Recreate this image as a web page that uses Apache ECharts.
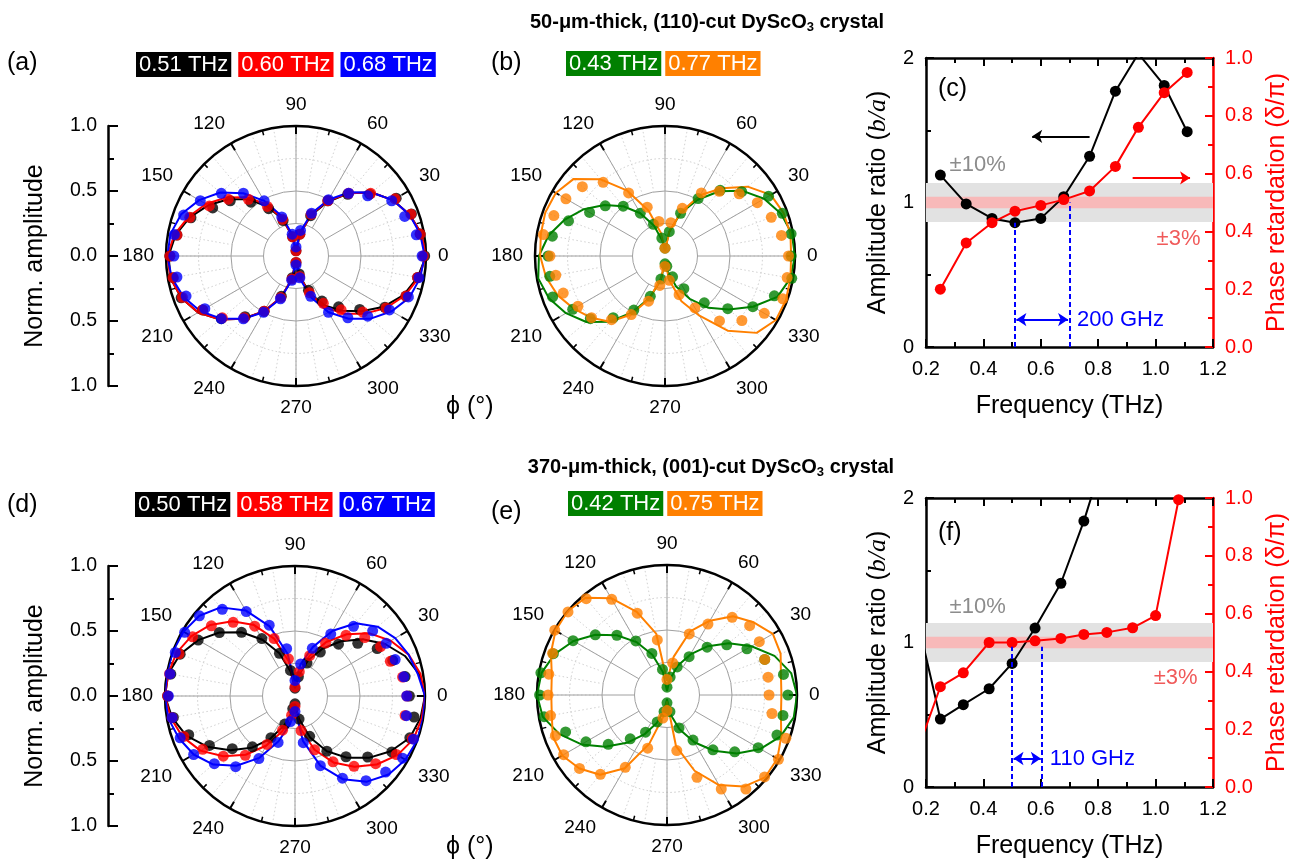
<!DOCTYPE html>
<html><head><meta charset="utf-8">
<script src="https://cdn.jsdelivr.net/npm/echarts/dist/echarts.min.js"></script>
<style>html,body{margin:0;padding:0;background:#fff}#c{width:1297px;height:863px}</style>
</head><body><div id="c"></div>
<script>
const FF = "'Liberation Sans', Arial, Helvetica, sans-serif";
const PHI = [0,10,20,30,40,50,60,70,80,90,100,110,120,130,140,150,160,170,180,190,200,210,220,230,240,250,260,270,280,290,300,310,320,330,340,350];

// (a) 50-um, (110)-cut
const A_PTS_051 = [0.99,0.97,0.945,0.89,0.74,0.62,0.49,0.33,0.17,0.04, 0.15,0.29,0.42,0.54,0.66,0.74,0.86,0.93,0.97, 0.96,0.94,0.83,0.75,0.61,0.49,0.33,0.17,0.05, 0.14,0.28,0.40,0.51,0.64,0.79,0.90,0.95];
const A_FIT_051 = [1.00,0.98,0.93,0.86,0.76,0.63,0.48,0.33,0.17,0.03, 0.15,0.30,0.44,0.57,0.68,0.78,0.87,0.94,0.98, 0.98,0.94,0.87,0.76,0.63,0.49,0.34,0.18,0.03, 0.15,0.30,0.44,0.55,0.66,0.78,0.88,0.95];
const A_PTS_060 = [0.98,0.97,0.94,0.88,0.75,0.63,0.49,0.34,0.17,0.04, 0.15,0.30,0.44,0.57,0.68,0.77,0.87,0.93,0.97, 0.96,0.93,0.83,0.74,0.62,0.49,0.34,0.18,0.05, 0.16,0.30,0.42,0.54,0.67,0.80,0.90,0.95];
const A_FIT_060 = [1.00,0.98,0.93,0.86,0.76,0.63,0.49,0.34,0.17,0.03, 0.15,0.31,0.46,0.59,0.70,0.80,0.88,0.95,0.99, 0.98,0.94,0.87,0.76,0.63,0.49,0.34,0.18,0.03, 0.16,0.31,0.46,0.58,0.69,0.80,0.89,0.96];
const A_PTS_068 = [0.97,0.94,0.89,0.85,0.72,0.63,0.50,0.35,0.20,0.07, 0.17,0.32,0.49,0.63,0.75,0.85,0.92,0.95,0.94, 0.93,0.90,0.81,0.75,0.63,0.50,0.35,0.19,0.07, 0.17,0.33,0.50,0.62,0.72,0.83,0.92,0.96];
const A_FIT_068 = [0.99,0.97,0.93,0.86,0.76,0.64,0.50,0.35,0.19,0.05, 0.17,0.33,0.49,0.63,0.76,0.86,0.94,0.98,0.99, 0.97,0.92,0.85,0.75,0.63,0.50,0.35,0.19,0.05, 0.18,0.34,0.50,0.63,0.75,0.85,0.93,0.97];

// (b)
const B_PTS_043 = [0.97,0.985,0.96,0.92,0.77,0.66,0.51,0.35,0.19,0.06, 0.14,0.26,0.38,0.50,0.60,0.67,0.79,0.88,0.90, 0.90,0.92,0.82,0.75,0.62,0.48,0.33,0.18,0.06, 0.08,0.17,0.29,0.47,0.63,0.78,0.895,0.99];
const B_FIT_043 = [1.00,0.99,0.95,0.88,0.78,0.65,0.50,0.35,0.19,0.05, 0.12,0.25,0.38,0.50,0.61,0.72,0.82,0.91,0.97, 0.99,0.95,0.88,0.79,0.66,0.50,0.34,0.19,0.05, 0.12,0.25,0.38,0.52,0.64,0.78,0.92,0.98];
const B_PTS_077 = [0.95,0.91,0.87,0.82,0.745,0.65,0.56,0.39,0.26,0.06, 0.27,0.40,0.56,0.74,0.83,0.88,0.91,0.95,0.885, 0.853,0.833,0.773,0.738,0.64,0.52,0.37,0.23,0.08, 0.19,0.317,0.46,0.652,0.772,0.882,0.964,0.954];
const B_FIT_077 = [0.97,0.98,0.97,0.94,0.83,0.68,0.54,0.36,0.19,0.04, 0.18,0.37,0.58,0.77,0.92,0.97,0.98,0.97,0.96, 0.93,0.88,0.81,0.74,0.66,0.52,0.35,0.17,0.04, 0.19,0.37,0.53,0.75,0.92,0.985,0.99,0.98];

// (d) 370-um, (001)-cut
const D_PTS_050 = [0.88,0.86,0.80,0.73,0.63,0.52,0.39,0.27,0.15,0.06, 0.20,0.35,0.51,0.64,0.76,0.86,0.94,0.97,0.98, 0.95,0.87,0.76,0.63,0.51,0.37,0.23,0.10,0.06, 0.18,0.33,0.49,0.61,0.73,0.86,0.94,0.93];
const D_FIT_050 = [1.00,0.97,0.90,0.80,0.68,0.55,0.42,0.29,0.16,0.06, 0.19,0.35,0.50,0.64,0.76,0.86,0.94,0.99,1.00, 0.96,0.89,0.78,0.65,0.52,0.38,0.24,0.12,0.06, 0.18,0.34,0.49,0.62,0.74,0.85,0.94,0.98];
const D_PTS_058 = [0.86,0.84,0.78,0.76,0.70,0.61,0.47,0.33,0.19,0.07, 0.29,0.47,0.62,0.74,0.84,0.91,0.95,0.98,0.98, 0.96,0.91,0.82,0.72,0.595,0.43,0.28,0.15,0.08, 0.27,0.44,0.585,0.706,0.81,0.90,0.96,0.86];
const D_FIT_058 = [1.00,0.98,0.93,0.85,0.75,0.62,0.48,0.33,0.18,0.07, 0.27,0.47,0.63,0.75,0.85,0.92,0.97,0.99,1.00, 0.97,0.92,0.84,0.72,0.59,0.44,0.29,0.15,0.07, 0.26,0.44,0.59,0.71,0.82,0.91,0.97,0.99];
const D_PTS_067 = [0.86,0.85,0.82,0.81,0.78,0.70,0.55,0.39,0.25,0.12, 0.37,0.58,0.75,0.87,0.96,0.98,0.98,0.977,0.974, 0.96,0.94,0.90,0.81,0.71,0.556,0.38,0.20,0.12, 0.365,0.57,0.73,0.85,0.91,0.956,0.97,0.87];
const D_FIT_067 = [1.00,0.96,0.93,0.89,0.83,0.73,0.58,0.40,0.25,0.10, 0.33,0.57,0.76,0.89,0.96,0.99,1.00,1.00,1.00, 0.99,0.95,0.90,0.82,0.70,0.55,0.37,0.22,0.10, 0.35,0.57,0.74,0.86,0.94,0.98,1.00,1.00];

// (e)
const E_PTS_042 = [0.93,0.91,0.80,0.71,0.60,0.48,0.34,0.23,0.14,0.06, 0.20,0.34,0.48,0.60,0.72,0.835,0.93,0.985,0.98, 0.96,0.83,0.72,0.59,0.44,0.33,0.22,0.13,0.06, 0.13,0.27,0.40,0.55,0.68,0.81,0.90,0.906];
const E_FIT_042 = [1.00,0.97,0.88,0.75,0.62,0.49,0.36,0.24,0.12,0.03, 0.18,0.33,0.47,0.60,0.72,0.83,0.92,0.98,1.00, 0.97,0.88,0.76,0.62,0.48,0.35,0.23,0.12,0.03, 0.15,0.28,0.42,0.56,0.70,0.83,0.93,0.99];
const E_PTS_075 = [0.785,0.79,0.80,0.82,0.83,0.78,0.63,0.50,0.25,0.12, 0.43,0.67,0.85,0.967,0.994,0.997,0.937,0.923,0.915, 0.91,0.914,0.918,0.879,0.797,0.642,0.435,0.18,0.12, 0.434,0.674,0.835,0.944,0.98,0.99,0.973,0.82];
const E_FIT_075 = [0.88,0.89,0.93,0.94,0.87,0.79,0.66,0.52,0.30,0.11, 0.48,0.68,0.86,0.976,1.00,0.99,0.95,0.90,0.89, 0.90,0.935,0.93,0.88,0.80,0.65,0.40,0.17,0.05, 0.40,0.62,0.80,0.92,0.985,0.98,0.935,0.89];

// (c) and (f)
const C_FREQ  = [0.25,0.34,0.43,0.51,0.60,0.68,0.77,0.86,0.94,1.03,1.11];
const C_RATIO = [1.19,0.99,0.89,0.86,0.89,1.04,1.32,1.77,2.03,1.81,1.49];
const C_PHASE = [0.20,0.36,0.43,0.47,0.49,0.51,0.54,0.625,0.76,0.88,0.95];
const F_FREQ  = [0.17,0.25,0.33,0.42,0.50,0.58,0.67,0.75,0.83,0.92,1.00,1.08];
const F_RATIO = [1.16,0.47,0.57,0.68,0.855,1.10,1.41,1.84,2.35];
const F_PHASE = [0.125,0.347,0.395,0.50,0.50,0.506,0.514,0.528,0.535,0.551,0.593,0.994];
const BAND_10 = [0.865, 1.135];
const BAND_3  = [0.96, 1.04];
const C_SPAN_X = [0.51, 0.70], C_SPAN_TOP = [0.86, 1.0], C_SPAN_Y = 0.19;
const F_SPAN_X = [0.50, 0.605], F_SPAN_TOP = [0.97, 0.97], F_SPAN_Y = 0.197;
const C_ARROW_AMP = [[0.77, 1.458], [0.57, 1.458]];
const C_ARROW_PHASE = [[0.92, 0.585], [1.12, 0.585]];

const BLACK = '#000000', RED = '#ff0000', BLUE = '#0000ff', GREEN = '#008000', ORANGE = '#ff8000';

const chart = echarts.init(document.getElementById('c'), null, {renderer: 'canvas'});

// ---------- polar systems ----------
const PANELS = [[296,256],[665,256],[295,696],[667,695]];
const R = 130;
const polar = [], angleAxis = [], radiusAxis = [];
const noAx = {axisLine:{show:false}, axisTick:{show:false}, axisLabel:{show:false}};
const T = 'rgba(0,0,0,0)';
PANELS.forEach(c => {
  const i0 = polar.length;
  polar.push({center:c, radius:[R*0.5, R]});
  angleAxis.push(Object.assign({polarIndex:i0, type:'value', min:0, max:360, interval:10, startAngle:0, clockwise:false,
    splitLine:{show:true, lineStyle:{color:'#d2d2d2', width:1, type:[1.5,2.5]}}}, noAx));
  radiusAxis.push(Object.assign({polarIndex:i0, type:'value', min:0, max:2, interval:1,
    splitLine:{show:true, lineStyle:{color:[T,'#cccccc',T], width:1, type:[1.5,2.5]}}}, noAx));
  polar.push({center:c, radius:[R*0.25, R]});
  angleAxis.push(Object.assign({polarIndex:i0+1, type:'value', min:0, max:360, interval:30, startAngle:0, clockwise:false,
    splitLine:{show:true, lineStyle:{color:'#a0a0a0', width:1}}}, noAx));
  radiusAxis.push(Object.assign({polarIndex:i0+1, type:'value', min:0, max:1, splitLine:{show:false}}, noAx));
  polar.push({center:c, radius:R});
  angleAxis.push({polarIndex:i0+2, type:'value', min:0, max:360, interval:30, startAngle:0, clockwise:false,
    axisLine:{show:true, lineStyle:{color:'#000', width:2.5}},
    axisTick:{show:true, inside:true, length:8, lineStyle:{color:'#000', width:2}},
    minorTick:{show:true, splitNumber:2, length:5, lineStyle:{color:'#000', width:1.5}},
    axisLabel:{show:true, margin:12, fontSize:19, color:'#000', fontFamily:FF},
    splitLine:{show:false}, minorSplitLine:{show:false}});
  radiusAxis.push(Object.assign({polarIndex:i0+2, type:'value', min:0, max:1, interval:0.25,
    splitLine:{show:true, lineStyle:{color:[T,'#a0a0a0','#a0a0a0',T,T], width:1}}}, noAx));
});

function polarPts(v){ return PHI.map((p,i)=>[v[i], p]); }
function polarLoop(v){ const d = polarPts(v); d.push([v[0], 360]); return d; }
function polarSeries(k, name, color, pts, fit){
  return [
    {type:'scatter', name, coordinateSystem:'polar', polarIndex:3*k+2, data:polarPts(pts), symbol:'circle', symbolSize:11, itemStyle:{color}, z:3, silent:true},
    {type:'line', name, coordinateSystem:'polar', polarIndex:3*k+2, data:polarLoop(fit), showSymbol:false, symbol:'none', lineStyle:{color, width:2}, itemStyle:{color}, z:3, silent:true}
  ];
}

// ---------- cartesian ----------
const grid = [
  {left:108, top:126, width:10, height:260, outerBoundsMode:'none'},
  {left:926, top:58, width:287, height:289, outerBoundsMode:'none'},
  {left:108, top:566, width:10, height:260, outerBoundsMode:'none'},
  {left:926, top:498, width:287, height:289, outerBoundsMode:'none'}
];
function hiddenX(gi){ return {gridIndex:gi, type:'value', show:false, min:0, max:1}; }
function normAxis(gi){ return {gridIndex:gi, type:'value', position:'left', min:-1, max:1, interval:0.5,
  axisLine:{show:true, onZero:false, lineStyle:{color:'#000', width:2.5}},
  axisTick:{show:true, inside:true, length:10, lineStyle:{color:'#000', width:2}},
  minorTick:{show:true, splitNumber:2, length:6, lineStyle:{color:'#000', width:2}},
  splitLine:{show:false}, minorSplitLine:{show:false},
  axisLabel:{show:true, margin:11, fontSize:19.5, color:'#000', fontFamily:FF, showMinLabel:true, showMaxLabel:true, formatter:v=>Math.abs(v).toFixed(1)},
  name:'Norm. amplitude', nameLocation:'middle', nameGap:60, nameRotate:90, nameMoveOverlap:false,
  nameTextStyle:{fontSize:25, color:'#000', fontFamily:FF}}; }
function freqAxis(gi, top){ return {gridIndex:gi, type:'value', position: top?'top':'bottom', min:0.2, max:1.2, interval:0.2,
  axisLine:{show:true, onZero:false, lineStyle:{color:'#000', width:2.5}},
  axisTick:{show:true, inside:true, length:8, lineStyle:{color:'#000', width:2}},
  minorTick:{show:true, splitNumber:2, length:5, lineStyle:{color:'#000', width:2}},
  splitLine:{show:false}, minorSplitLine:{show:false},
  axisLabel:{show:!top, margin:12, fontSize:20, color:'#000', fontFamily:FF, showMinLabel:true, showMaxLabel:true, formatter:v=>v.toFixed(1)},
  name: top ? '' : 'Frequency (THz)', nameLocation:'middle', nameGap:47, nameMoveOverlap:false,
  nameTextStyle:{fontSize:25, color:'#000', fontFamily:FF}}; }
function ratioAxis(gi){ return {gridIndex:gi, type:'value', position:'left', min:0, max:2, interval:1,
  axisLine:{show:true, onZero:false, lineStyle:{color:'#000', width:2.5}},
  axisTick:{show:true, inside:true, length:8, lineStyle:{color:'#000', width:2}},
  minorTick:{show:true, splitNumber:2, length:5, lineStyle:{color:'#000', width:2}},
  splitLine:{show:false}, minorSplitLine:{show:false},
  axisLabel:{margin:12, fontSize:20, color:'#000', fontFamily:FF, showMinLabel:true, showMaxLabel:true, formatter:v=>String(v)},
  name:'{n|Amplitude ratio (}{i|b/a}{n|)}', nameLocation:'middle', nameGap:35, nameRotate:90, nameMoveOverlap:false,
  nameTextStyle:{fontSize:25, color:'#000', fontFamily:FF,
    rich:{n:{fontSize:25, color:'#000', fontFamily:FF}, i:{fontSize:26, color:'#000', fontStyle:'italic', fontFamily:"'Liberation Serif','DejaVu Serif',serif"}}}}; }
function phaseAxis(gi){ return {gridIndex:gi, type:'value', position:'right', min:0, max:1, interval:0.2,
  axisLine:{show:true, onZero:false, lineStyle:{color:RED, width:2.5}},
  axisTick:{show:true, inside:true, length:8, lineStyle:{color:RED, width:2}},
  minorTick:{show:true, splitNumber:2, length:5, lineStyle:{color:RED, width:2}},
  splitLine:{show:false}, minorSplitLine:{show:false},
  axisLabel:{margin:12, fontSize:20, color:RED, fontFamily:FF, showMinLabel:true, showMaxLabel:true, formatter:v=>v.toFixed(1)},
  name:'Phase retardation (δ/π)', nameLocation:'middle', nameGap:52, nameRotate:90, nameMoveOverlap:false,
  nameTextStyle:{fontSize:25, color:RED, fontFamily:FF}}; }

const xAxis = [hiddenX(0), freqAxis(1,false), freqAxis(1,true), hiddenX(2), freqAxis(3,false), freqAxis(3,true)];
const yAxis = [normAxis(0), ratioAxis(1), phaseAxis(1), normAxis(2), ratioAxis(3), phaseAxis(3)];

const dashBlue = {color:BLUE, width:2, type:[5,3]};
function spanMarks(spanX, spanTop, spanY, text){
  const lab = {show:true, position:'end', formatter:text, color:BLUE, fontSize:22, fontFamily:FF, distance:9};
  return [
    [{coord:[spanX[0],0], lineStyle:dashBlue}, {coord:[spanX[0],spanTop[0]]}],
    [{coord:[spanX[1],0], lineStyle:dashBlue}, {coord:[spanX[1],spanTop[1]]}],
    [{coord:[spanX[0]+0.005,spanY], symbol:'arrow', symbolSize:10, lineStyle:{color:BLUE, width:2, type:'solid'}, label:lab},
     {coord:[spanX[1]-0.005,spanY], symbol:'arrow', symbolSize:10}]
  ];
}
function bandArea(){ return {silent:true, data:[
  [{yAxis:BAND_10[0], itemStyle:{color:'#e2e2e2'}}, {yAxis:BAND_10[1]}],
  [{yAxis:BAND_3[0], itemStyle:{color:'#f8b9b9'}}, {yAxis:BAND_3[1]}]]}; }
function textPoint(coord, text, color){ return {coord, symbol:'circle', symbolSize:1, itemStyle:{color:T},
  label:{show:true, position:'inside', formatter:text, color, fontSize:22, fontFamily:FF}}; }

const cSeries = [
  {type:'line', name:'ratio (c)', xAxisIndex:1, yAxisIndex:1, data:C_FREQ.map((f,i)=>[f,C_RATIO[i]]),
    symbol:'circle', symbolSize:11, showAllSymbol:true, clip:true, z:3, silent:true,
    lineStyle:{color:BLACK, width:2}, itemStyle:{color:BLACK},
    markArea:bandArea(),
    markLine:{silent:true, symbol:['none','none'], label:{show:false}, animation:false,
      data: spanMarks(C_SPAN_X, C_SPAN_TOP, C_SPAN_Y, '200 GHz').concat([
        [{coord:C_ARROW_AMP[0], symbol:'none', lineStyle:{color:BLACK, width:2, type:'solid'}}, {coord:C_ARROW_AMP[1], symbol:'arrow', symbolSize:10}]
      ])},
    markPoint:{silent:true, animation:false, data:[textPoint([0.38,1.26],'±10%','#8c8c8c')]}
  },
  {type:'line', name:'phase (c)', xAxisIndex:1, yAxisIndex:2, data:C_FREQ.map((f,i)=>[f,C_PHASE[i]]),
    symbol:'circle', symbolSize:11, showAllSymbol:true, clip:true, z:4, silent:true,
    lineStyle:{color:RED, width:2}, itemStyle:{color:RED},
    markLine:{silent:true, symbol:['none','none'], label:{show:false}, animation:false,
      data:[[{coord:C_ARROW_PHASE[0], symbol:'none', lineStyle:{color:RED, width:2, type:'solid'}}, {coord:C_ARROW_PHASE[1], symbol:'arrow', symbolSize:10}]]},
    markPoint:{silent:true, animation:false, data:[textPoint([1.08,0.375],'±3%','#f05a5a')]}
  }
];
const fSeries = [
  {type:'line', name:'ratio (f)', xAxisIndex:4, yAxisIndex:4, data:F_RATIO.map((v,i)=>[F_FREQ[i],v]),
    symbol:'circle', symbolSize:11, showAllSymbol:true, clip:true, z:3, silent:true,
    lineStyle:{color:BLACK, width:2}, itemStyle:{color:BLACK},
    markArea:bandArea(),
    markLine:{silent:true, symbol:['none','none'], label:{show:false}, animation:false,
      data: spanMarks(F_SPAN_X, F_SPAN_TOP, F_SPAN_Y, '110 GHz')},
    markPoint:{silent:true, animation:false, data:[textPoint([0.38,1.246],'±10%','#8c8c8c')]}
  },
  {type:'line', name:'phase (f)', xAxisIndex:4, yAxisIndex:5, data:F_PHASE.map((v,i)=>[F_FREQ[i],v]),
    symbol:'circle', symbolSize:11, showAllSymbol:true, clip:true, z:4, silent:true,
    lineStyle:{color:RED, width:2}, itemStyle:{color:RED},
    markPoint:{silent:true, animation:false, data:[textPoint([1.07,0.377],'±3%','#f05a5a')]}
  }
];

const series = [].concat(
  polarSeries(0,'0.51 THz',BLACK,A_PTS_051,A_FIT_051),
  polarSeries(0,'0.60 THz',RED,A_PTS_060,A_FIT_060),
  polarSeries(0,'0.68 THz',BLUE,A_PTS_068,A_FIT_068),
  polarSeries(1,'0.43 THz',GREEN,B_PTS_043,B_FIT_043),
  polarSeries(1,'0.77 THz',ORANGE,B_PTS_077,B_FIT_077),
  polarSeries(2,'0.50 THz',BLACK,D_PTS_050,D_FIT_050),
  polarSeries(2,'0.58 THz',RED,D_PTS_058,D_FIT_058),
  polarSeries(2,'0.67 THz',BLUE,D_PTS_067,D_FIT_067),
  polarSeries(3,'0.42 THz',GREEN,E_PTS_042,E_FIT_042),
  polarSeries(3,'0.75 THz',ORANGE,E_PTS_075,E_FIT_075),
  cSeries, fSeries
);

// ---------- legends ----------
const LEG_KEY = {'0.51 THz':'k','0.60 THz':'r','0.68 THz':'b','0.43 THz':'g','0.77 THz':'o',
                 '0.50 THz':'k','0.58 THz':'r','0.67 THz':'b','0.42 THz':'g','0.75 THz':'o'};
const box = bg => ({backgroundColor:bg, color:'#fff', fontSize:22, lineHeight:22, padding:[2,3,1,3], fontFamily:FF});
const legRich = {k:box(BLACK), r:box(RED), b:box(BLUE), g:box(GREEN), o:box(ORANGE)};
function legend(names, left, top, gap){
  return {data:names, left, top, orient:'horizontal', itemGap:gap, itemWidth:0, itemHeight:0, icon:'none', padding:0,
    selectedMode:false, formatter:n=>'{'+LEG_KEY[n]+'|'+n+'}', textStyle:{rich:legRich, fontFamily:FF}};
}

// ---------- texts ----------
const titleStyle = {fontSize:20, fontWeight:'bold', color:'#000', fontFamily:FF,
  rich:{s:{fontSize:13, fontWeight:'bold', color:'#000', fontFamily:FF, padding:[10,0,0,0]}}};
function label(text, left, top){ return {text, left, top, padding:0, textStyle:{fontSize:25, fontWeight:'normal', color:'#000', fontFamily:FF}}; }
const title = [
  {text:'50-μm-thick, (110)-cut DyScO{s|3} crystal', left:707, top:11, textAlign:'center', padding:0, textStyle:titleStyle},
  {text:'370-μm-thick, (001)-cut DyScO{s|3} crystal', left:711, top:456, textAlign:'center', padding:0, textStyle:titleStyle},
  label('(a)', 7, 51), label('(b)', 491, 51), label('(c)', 938, 77),
  label('(d)', 7, 493), label('(e)', 491, 500), label('(f)', 938, 521),
  label('ϕ (°)', 446, 395), label('ϕ (°)', 446, 835)
];

chart.setOption({
  animation:false,
  backgroundColor:'#ffffff',
  textStyle:{fontFamily:FF},
  title,
  legend:[
    legend(['0.51 THz','0.60 THz','0.68 THz'], 131, 52, 2),
    legend(['0.43 THz','0.77 THz'], 561, 51, -1),
    legend(['0.50 THz','0.58 THz','0.67 THz'], 130, 492, 2),
    legend(['0.42 THz','0.75 THz'], 563, 491, -1)
  ],
  polar, angleAxis, radiusAxis,
  grid, xAxis, yAxis,
  series
});
</script></body></html>
